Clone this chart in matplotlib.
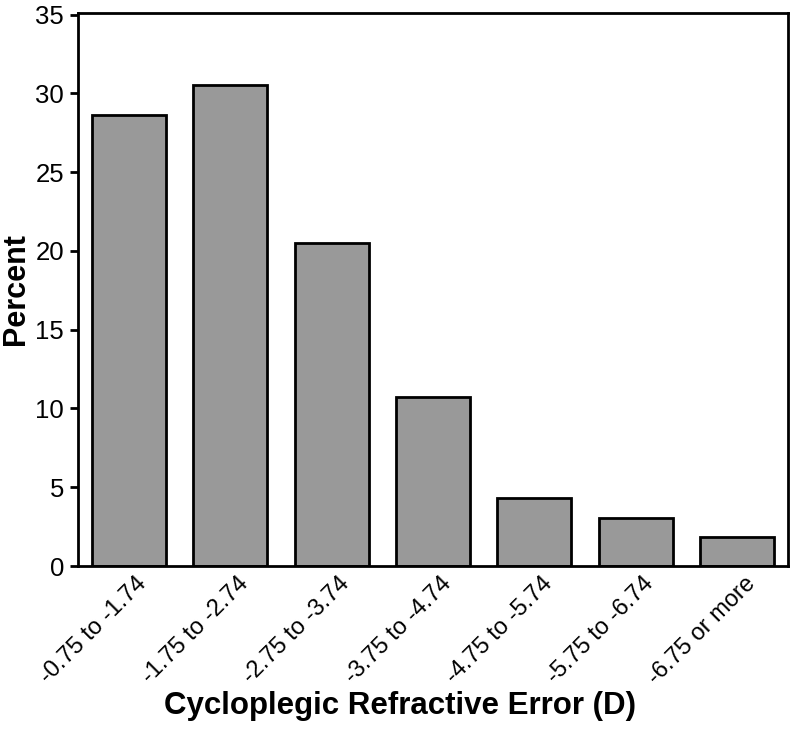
import matplotlib
matplotlib.use("Agg")
import matplotlib.pyplot as plt
import matplotlib.transforms as mtransforms

categories = ["-0.75 to -1.74", "-1.75 to -2.74", "-2.75 to -3.74", "-3.75 to -4.74",
              "-4.75 to -5.74", "-5.75 to -6.74", "-6.75 or more"]
percent = [28.6, 30.5, 20.5, 10.7, 4.3, 3.05, 1.85]
yticks = [0, 5, 10, 15, 20, 25, 30, 35]

plt.rcParams['font.family'] = ['Liberation Sans', 'DejaVu Sans']

fig = plt.figure(figsize=(8, 7.32), dpi=100)
ax = fig.add_axes([78/800, 1 - 566/732, (788-78)/800, (566-13)/732])

x = list(range(len(categories)))
ax.bar(x, percent, width=0.73, color="#999999", edgecolor="black", linewidth=2, zorder=2)

ax.set_xlim(-0.5, len(categories) - 0.5)
ax.set_ylim(0, 35.1)
ax.set_yticks(yticks)
ax.set_yticklabels([str(t) for t in yticks], fontsize=18.5)
ax.set_xticks(x)
ax.set_xticklabels(categories, rotation=45, ha="right", rotation_mode="anchor", fontsize=17)
ax.tick_params(axis="x", length=0, pad=5)
ax.tick_params(axis="y", length=6, width=2, pad=4)

offset = mtransforms.ScaledTranslation(7/100, 0, fig.dpi_scale_trans)
for lbl in ax.get_xticklabels():
    lbl.set_transform(lbl.get_transform() + offset)

for s in ax.spines.values():
    s.set_linewidth(2)

ax.set_ylabel("Percent", fontsize=22, fontweight="bold", labelpad=3)
ax.set_xlabel("Cycloplegic Refractive Error (D)", fontsize=22.5, fontweight="bold")
ax.xaxis.set_label_coords(0.4535, -0.226)

fig.savefig("out.png", dpi=100)
